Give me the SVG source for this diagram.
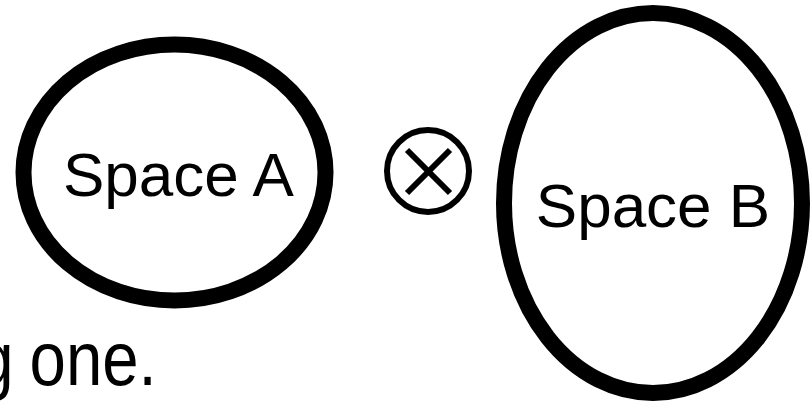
<svg xmlns="http://www.w3.org/2000/svg" width="811" height="405" viewBox="0 0 811 405">
<style>
.space{fill:none;stroke:#000;stroke-width:16}
.lbl{font-family:"Liberation Sans",Arial,sans-serif;fill:#000;text-anchor:middle}
.op{fill:none;stroke:#000;stroke-width:6}
</style>
<rect width="811" height="405" fill="#fff"/>
<g id="caption">
<text class="lbl" x="-26.5" y="385" font-size="76" transform="scale(0.86,1)" style="text-anchor:start;word-spacing:-2.5px">g one.</text>
</g>
<g id="spaceA">
<ellipse class="space" cx="174.5" cy="172.5" rx="151" ry="128"/>
<text class="lbl" x="178.5" y="196" font-size="62">Space A</text>
</g>
<g id="tensor">
<circle class="op" cx="428" cy="171" r="41"/>
<line class="op" x1="407" y1="150" x2="450" y2="193"/>
<line class="op" x1="450" y1="150" x2="407" y2="193"/>
</g>
<g id="spaceB">
<ellipse class="space" cx="653" cy="203" rx="149" ry="190"/>
<text class="lbl" x="653" y="227" font-size="62">Space B</text>
</g>
<g id="connectors"/>
</svg>
